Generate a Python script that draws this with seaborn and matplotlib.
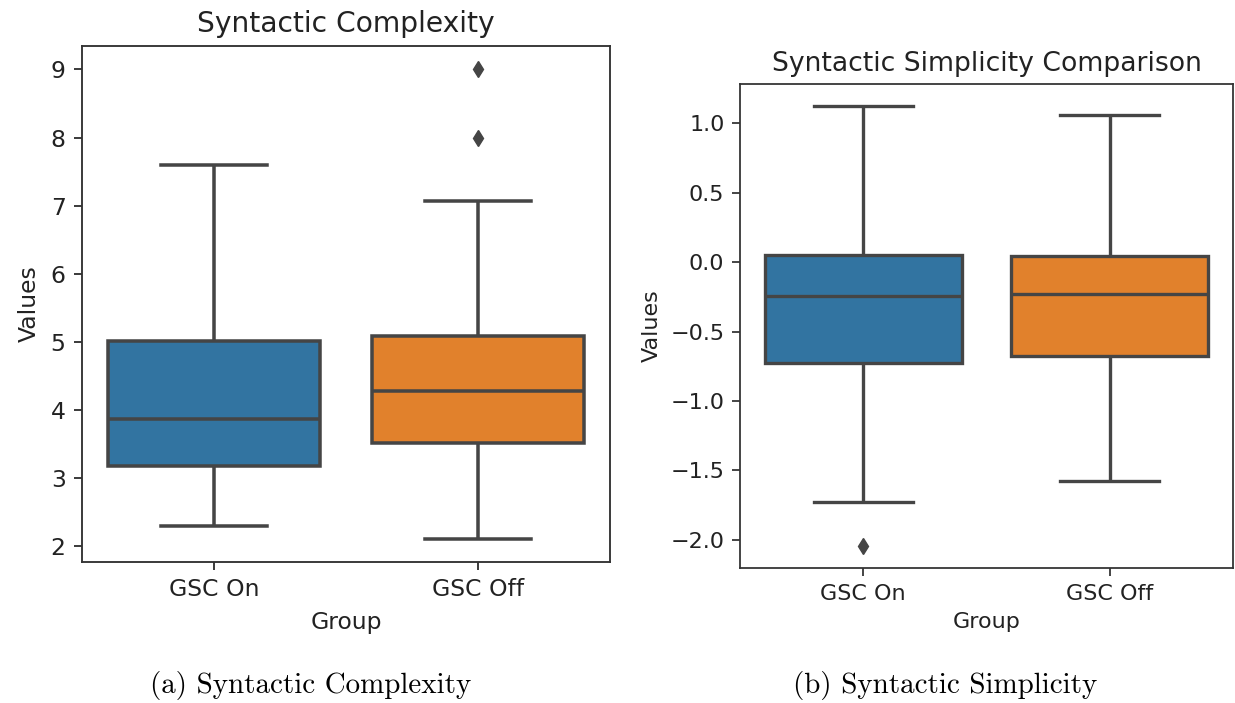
import matplotlib
matplotlib.use("Agg")
import matplotlib.pyplot as plt
import seaborn as sns
import pandas as pd

# Observations per group (syntactic complexity scores)
groups = ["GSC On", "GSC Off"]
complexity_on = [2.29, 2.70, 3.00, 3.17, 3.45, 3.70, 3.86, 4.30, 4.70, 5.01, 5.60, 6.50, 7.59]
complexity_off = [2.11, 2.80, 3.20, 3.51, 3.80, 4.05, 4.28, 4.60, 4.85, 5.08, 7.07, 8.00, 9.00]

# Observations per group (syntactic simplicity scores)
simplicity_on = [-2.045, -1.73, -1.10, -0.726, -0.55, -0.38, -0.245, -0.15, -0.05, 0.055, 0.35, 0.70, 1.125]
simplicity_off = [-1.574, -1.20, -0.90, -0.678, -0.50, -0.35, -0.228, -0.12, -0.03, 0.041, 0.40, 0.75, 1.062]

titles = ["Syntactic Complexity", "Syntactic Simplicity Comparison"]
captions = ["(a) Syntactic Complexity", "(b) Syntactic Simplicity"]
colors = ["#3274a1", "#e1812c"]
line_gray = "#454545"


def frame(on, off):
    return pd.DataFrame({
        "Group": [groups[0]] * len(on) + [groups[1]] * len(off),
        "Values": list(on) + list(off),
    })


fig = plt.figure(figsize=(12.35, 7.03), dpi=100)
W, H = 1235, 703


def px_axes(x0, y0, x1, y1):
    return fig.add_axes([x0 / W, 1 - y1 / H, (x1 - x0) / W, (y1 - y0) / H])


panels = [
    (px_axes(82, 46, 610, 562), frame(complexity_on, complexity_off), 1.69),
    (px_axes(740, 84, 1233, 568), frame(simplicity_on, simplicity_off), 1.60),
]

for i, (ax, df, s) in enumerate(panels):
    sns.boxplot(
        data=df, x="Group", y="Values", hue="Group", order=groups,
        palette=colors, saturation=1, width=0.8, ax=ax, legend=False,
        linecolor=line_gray, linewidth=1.5 * s,
        flierprops=dict(marker="d", markerfacecolor=line_gray,
                        markeredgecolor=line_gray, markersize=5 * s),
    )
    ax.set_title(titles[i], fontsize=12 * s, pad=6 * s, color="#222222")
    ax.set_xlabel("Group", fontsize=10 * s, labelpad=4 * s, color="#222222")
    ax.set_ylabel("Values", fontsize=10 * s, labelpad=4 * s, color="#222222")
    ax.tick_params(labelsize=10 * s, length=3.5 * s, width=0.8 * s, pad=3.5 * s,
                   labelcolor="#222222", color="#333333")
    for sp in ax.spines.values():
        sp.set_linewidth(0.8 * s)
        sp.set_color("#333333")

fig.text(311 / W, 1 - 685 / H, captions[0], family="cmr10", fontsize=20.9,
         ha="center", va="center")
fig.text(945 / W, 1 - 685 / H, captions[1], family="cmr10", fontsize=20.9,
         ha="center", va="center")

fig.savefig("out.png", dpi=100)
